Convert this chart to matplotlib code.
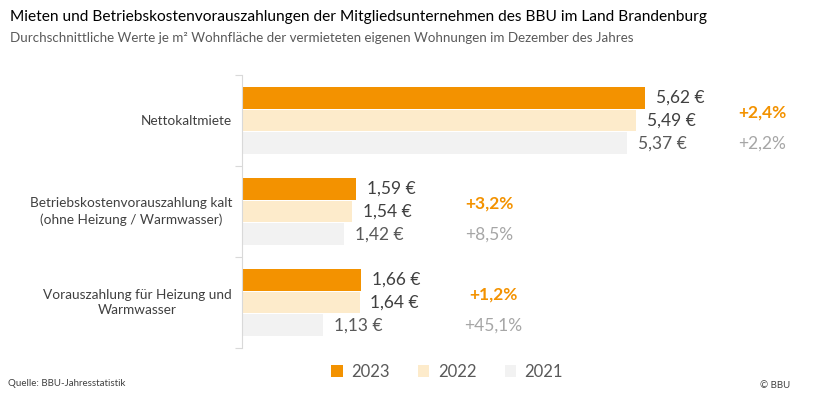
import numpy as np
import matplotlib.pyplot as plt

plt.rcParams['font.family'] = ['Lato', 'DejaVu Sans']

categories = ['Nettokaltmiete',
              'Betriebskostenvorauszahlung kalt\n(ohne Heizung / Warmwasser)',
              'Vorauszahlung für Heizung und\nWarmwasser']
years = ['2023', '2022', '2021']
v2023 = [5.62, 1.59, 1.66]
v2022 = [5.49, 1.54, 1.64]
v2021 = [5.37, 1.42, 1.13]
chg_23 = ['+2,4%', '+3,2%', '+1,2%']
chg_22 = ['+2,2%', '+8,5%', '+45,1%']
chg_x = [7.25, 3.45, 3.5]

colors = ['#F39200', '#FDEBCB', '#F2F2F2']
label_colors = ['#404040', '#404040', '#595959']

fig = plt.figure(figsize=(8.26, 4.03), dpi=100)
ax = fig.add_axes([242/826, 55/403, 574/826, 273/403])

idx = np.arange(len(categories))
h = 0.24
offs = [-0.25, 0.0, 0.25]
for vals, off, c, lc, yr in zip([v2023, v2022, v2021], offs, colors, label_colors, years):
    bars = ax.barh(idx + off, vals, height=h, color=c, label=yr)
    for b, v in zip(bars, vals):
        ax.text(v + 0.15, b.get_y() + h/2, f'{v:.2f} €'.replace('.', ','),
                va='center', ha='left', fontsize=12.5, color=lc)

for i in idx:
    ax.text(chg_x[i], i - 0.09, chg_23[i], ha='center', va='center',
            fontsize=12.5, color='#F39200', fontweight='bold')
    ax.text(chg_x[i], i + 0.25, chg_22[i], ha='center', va='center',
            fontsize=12.5, color='#A6A6A6')

ax.set_xlim(0, 8)
ax.set_ylim(2.5, -0.5)
ax.set_xticks([])
ax.set_yticks([-0.5, 0.5, 1.5, 2.5])
ax.set_yticklabels([])
ax.tick_params(axis='y', length=5, color='#D9D9D9')
for s in ['top', 'right', 'bottom']:
    ax.spines[s].set_visible(False)
ax.spines['left'].set_color('#D9D9D9')

for i, cat in enumerate(categories):
    ax.text(-0.14, i, cat, ha='right', va='center', multialignment='center',
            fontsize=9.8, color='#404040', linespacing=1.35)

fig.text(10/826, 1 - 17/403, 'Mieten und Betriebskostenvorauszahlungen der Mitgliedsunternehmen des BBU im Land Brandenburg',
         fontsize=11.2, color='#000000', va='center', ha='left')
fig.text(10/826, 1 - 38/403, 'Durchschnittliche Werte je m² Wohnfläche der vermieteten eigenen Wohnungen im Dezember des Jahres',
         fontsize=9.6, color='#595959', va='center', ha='left')
fig.text(8/826, 1 - 383/403, 'Quelle: BBU-Jahresstatistik', fontsize=7, color='#404040', va='center')
fig.text(760/826, 1 - 386/403, '© BBU', fontsize=7, color='#404040', va='center')

leg = ax.legend(loc='center', bbox_to_anchor=(447/826, 1 - 372/403), bbox_transform=fig.transFigure,
                ncol=3, frameon=False, fontsize=12, handlelength=0.7, handleheight=0.7,
                columnspacing=1.7, handletextpad=0.5)
for t in leg.get_texts():
    t.set_color('#595959')

fig.savefig('out.png', dpi=100)
